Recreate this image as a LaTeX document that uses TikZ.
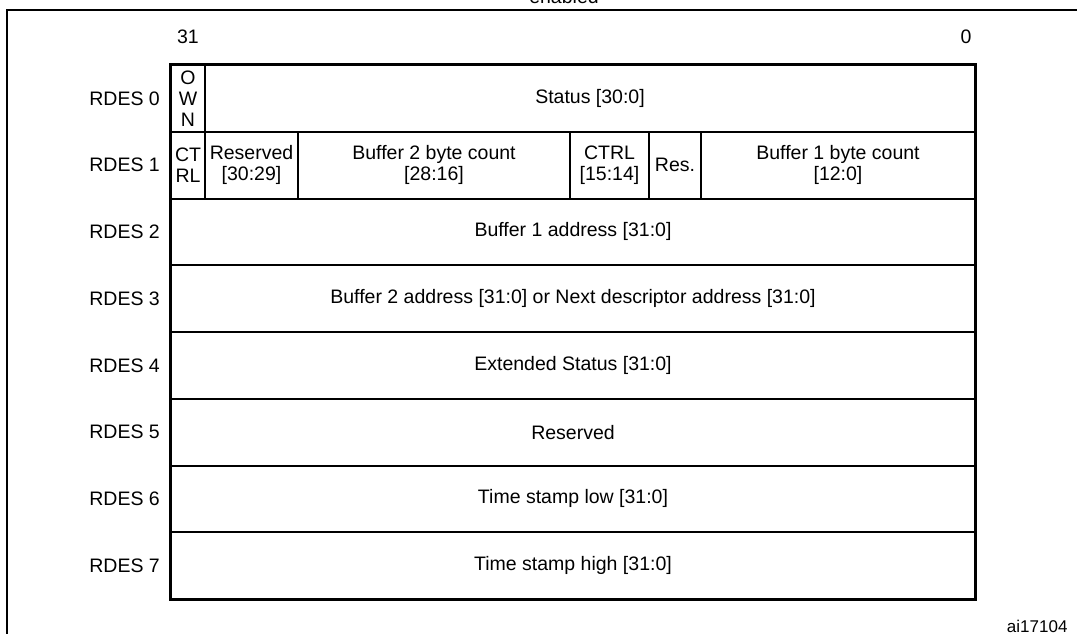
\documentclass[tikz,border=0pt]{standalone}
\usepackage{fontspec}
\setmainfont{Liberation Sans}
\usetikzlibrary{positioning}

\begin{document}
\begin{tikzpicture}[x=1pt, y=-1pt, font=\fontsize{19.5}{21}\selectfont,
    field/.style={draw, line width=2pt, inner sep=0pt, align=center, minimum height=66.75pt},
    rowlabel/.style={inner sep=0pt}]
  \useasboundingbox (0,0) rectangle (1077,634);
  % frame of the figure, cut off by the page
  \coordinate (fb) at (7,660);
  \coordinate (fc) at (7,10);
  \coordinate (fr) at (1100,10);
  \draw[line width=2pt] (fb) -- (fc) -- (fr);
  \node[anchor=base] (cap) at (564,4) {enabled};
  \node (msb) at (188,37) {31};
  \node (lsb) at (966,37) {0};

  \def\split {row0/0/171/205/{O\\W\\N}, st0/0/205/975/{Status [30:0]},
              row1/1/171/205/{CT\\RL}, res1/1/205/298/{Reserved\\{}[30:29]},
              bc2/1/298/570/{Buffer 2 byte count\\{}[28:16]}, ctrl1/1/570/649/{CTRL\\{}[15:14]},
              rs1/1/649/701/{Res.}, bc1/1/701/975/{Buffer 1 byte count\\{}[12:0]}}  % split words
  \foreach \n/\r/\a/\b/\t in \split
  {  \node[field, minimum width={(\b-\a)*1pt}] (\n) at ({(\a+\b)/2}, {65+66.75*(\r+0.5)}) {\t};
  }
  \def\whole {2/Buffer 1 address [31:0], 3/Buffer 2 address [31:0] or Next descriptor address [31:0],
              4/Extended Status [31:0], 5/Reserved, 6/Time stamp low [31:0], 7/Time stamp high [31:0]}  % full words
  \foreach \i/\t in \whole
  {  \node[field, minimum width=804pt] (row\i) at (573, {65+66.75*(\i+0.5)}) {\t};
  }
  \foreach \i in {0,...,7}
  {  \node[rowlabel, left=10pt of row\i] (lbl\i) {RDES \i};
  }
  \draw[line width=2.6pt] (row0.north west) rectangle (row7.south east);

  \node[anchor=base east, font=\fontsize{17}{19}\selectfont] (fig) at (1071,632) {ai17104};
\end{tikzpicture}
\end{document}
